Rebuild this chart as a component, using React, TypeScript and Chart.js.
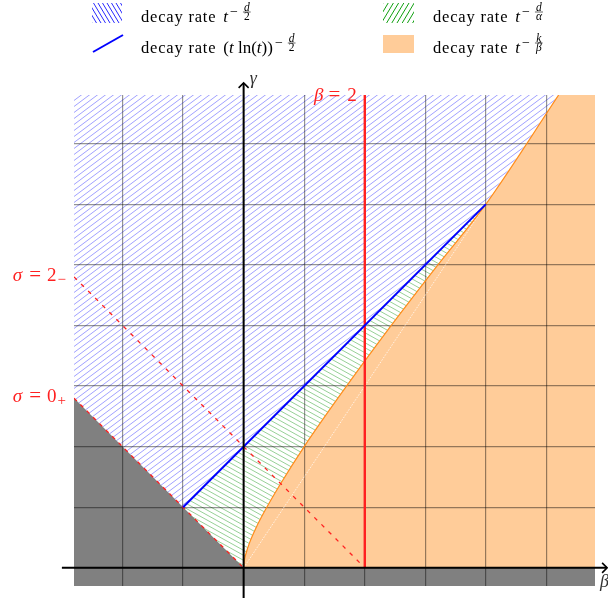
import React, { useEffect, useRef } from 'react';
import { Chart, registerables } from 'chart.js';

Chart.register(...registerables);

// ---------- axis ranges (data units) ----------
const betaRange = [-2.8, 5.8];
const gammaRange = [-0.3, 7.8];
const betaAxis = [-3, 6];
const gammaAxis = [-0.5, 8];
const gridStep = 1;

// ---------- regions / curves ----------
// grey region: below gamma = max(-beta, 0)
const greyBeta = [-2.8, 0, 5.8];
const greyGamma = [2.8, 0, 0];

// orange boundary curve (t^{-k/beta} region lies to the right of it)
const orangeBeta = [0, 0.01, 0.04, 0.1, 0.2, 0.35, 0.6, 1, 1.6, 2.4, 3.2, 4, 5.2];
const orangeGamma = [0, 0.11, 0.24, 0.42, 0.65, 0.94, 1.37, 2, 2.86, 3.95, 4.99, 6, 7.8];
// straight upper part of the orange region up to the right edge
const orangeTopBeta = [4, 5.2, 5.8];
const orangeTopGamma = [6, 7.8, 7.8];

// lower boundary of the blue hatched region
const blueHatchBeta = [-2.8, -1, 4, 5.2, 5.8];
const blueHatchGamma = [2.8, 1, 6, 7.8, 7.8];

// blue line: decay rate (t ln t)^{-d/2}
const blueLineBeta = [-1, 4];
const blueLineGamma = [1, 6];

// red vertical line beta = 2
const betaTwoBeta = [2, 2];
const betaTwoGamma = [0, 7.8];

// red dashed sigma lines
const sigma2Beta = [-2.8, 2];
const sigma2Gamma = [4.8, 0];
const sigma0Beta = [-2.8, 0];
const sigma0Gamma = [2.8, 0];

// thin white line inside the orange region
const whiteBeta = [0, 4];
const whiteGamma = [0, 6];

// ---------- styles ----------
const RED = '#ff2020';
const ORANGE = 'rgb(255,204,153)';
const ORANGE_LINE = '#ff8c1a';
const GREY = '#808080';
const GRID = 'rgba(0,0,0,0.42)';
const SERIF = '"Liberation Serif", "DejaVu Serif", serif';
const font = (size: number, italic = false) => `${italic ? 'italic ' : ''}${size}px ${SERIF}`;

function pts(xs: number[], ys: number[]) {
  return xs.map((x, i) => ({ x, y: ys[i] }));
}

function makeHatch(dir: '/' | '\\', color: string, w: number, h: number, lw: number) {
  const c = document.createElement('canvas');
  c.width = w;
  c.height = h;
  const g = c.getContext('2d')!;
  g.strokeStyle = color;
  g.lineWidth = lw;
  g.beginPath();
  for (let k = -1; k <= 1; k++) {
    if (dir === '/') {
      g.moveTo(0, h + k * h);
      g.lineTo(w, k * h);
    } else {
      g.moveTo(0, k * h);
      g.lineTo(w, h + k * h);
    }
  }
  g.stroke();
  return g.createPattern(c, 'repeat')!;
}

function hatchBox(ctx: CanvasRenderingContext2D, x: number, y: number, w: number, h: number,
  dir: '/' | '\\', color: string, step: number, run: number) {
  ctx.save();
  ctx.beginPath();
  ctx.rect(x, y, w, h);
  ctx.clip();
  ctx.strokeStyle = color;
  ctx.lineWidth = 1;
  ctx.beginPath();
  for (let sx = x - run - step; sx < x + w + run + step; sx += step) {
    if (dir === '\\') {
      ctx.moveTo(sx, y);
      ctx.lineTo(sx + run, y + h);
    } else {
      ctx.moveTo(sx, y + h);
      ctx.lineTo(sx + run, y);
    }
  }
  ctx.stroke();
  ctx.restore();
}

type Part = { t?: string; f?: string; dy?: number; gap?: number };

function drawParts(ctx: CanvasRenderingContext2D, parts: Part[], x: number, y: number, align: 'left' | 'right') {
  ctx.textAlign = 'left';
  let total = 0;
  for (const p of parts) {
    if (p.gap !== undefined) { total += p.gap; continue; }
    ctx.font = p.f!;
    total += ctx.measureText(p.t!).width;
  }
  let cx = align === 'right' ? x - total : x;
  for (const p of parts) {
    if (p.gap !== undefined) { cx += p.gap; continue; }
    ctx.font = p.f!;
    ctx.fillText(p.t!, cx, y + (p.dy || 0));
    cx += ctx.measureText(p.t!).width;
  }
}

function decayLabel(ctx: CanvasRenderingContext2D, x: number, y: number,
  base: [string, boolean][], num: string, den: string) {
  ctx.fillStyle = '#000';
  ctx.textAlign = 'left';
  ctx.font = font(16.5);
  (ctx as any).letterSpacing = '0.8px';
  ctx.fillText('decay rate', x, y);
  let cx = x + ctx.measureText('decay rate').width + 7;
  (ctx as any).letterSpacing = '0px';
  for (const [t, it] of base) {
    ctx.font = font(17, it);
    ctx.fillText(t, cx, y);
    cx += ctx.measureText(t).width;
  }
  cx += 2;
  ctx.font = font(14);
  ctx.fillText('\u2212', cx, y - 6.5);
  cx += ctx.measureText('\u2212').width + 5;
  ctx.font = font(11.5, true);
  const wn = ctx.measureText(num).width;
  const denItalic = den !== '2';
  ctx.font = font(11.5, denItalic);
  const wd = ctx.measureText(den).width;
  const w = Math.max(wn, wd) + 2;
  ctx.font = font(11.5, true);
  ctx.fillText(num, cx + (w - wn) / 2, y - 11);
  ctx.font = font(11.5, denItalic);
  ctx.fillText(den, cx + (w - wd) / 2, y - 2);
  ctx.fillRect(cx, y - 10.3, w, 0.6);
}

export default function App() {
  const ref = useRef<HTMLCanvasElement>(null);

  useEffect(() => {
    const canvas = ref.current!;
    const blueHatch = makeHatch('/', 'rgba(110,110,255,0.72)', 8, 6, 0.9);
    const greenHatch = makeHatch('\\', 'rgba(90,180,90,0.7)', 9, 5, 0.9);

    const overlay = {
      id: 'overlay',
      afterDraw(chart: any) {
        const ctx: CanvasRenderingContext2D = chart.ctx;
        const area = chart.chartArea;
        const sx = chart.scales.x;
        const sy = chart.scales.y;
        const px = (v: number) => sx.getPixelForValue(v);
        const py = (v: number) => sy.getPixelForValue(v);
        ctx.save();

        // axes with arrows
        const ox = px(0);
        const oy = py(0);
        const xEnd = px(betaAxis[1]);
        const yEnd = py(gammaAxis[1]);
        ctx.strokeStyle = '#000';
        ctx.lineWidth = 2;
        ctx.beginPath();
        ctx.moveTo(px(betaAxis[0]), oy);
        ctx.lineTo(xEnd, oy);
        ctx.stroke();
        ctx.beginPath();
        ctx.moveTo(ox, py(gammaAxis[0]));
        ctx.lineTo(ox, yEnd);
        ctx.stroke();
        ctx.lineWidth = 1.6;
        ctx.beginPath();
        ctx.moveTo(xEnd - 5, oy - 5);
        ctx.lineTo(xEnd, oy);
        ctx.lineTo(xEnd - 5, oy + 5);
        ctx.stroke();
        ctx.beginPath();
        ctx.moveTo(ox - 5, yEnd + 5);
        ctx.lineTo(ox, yEnd);
        ctx.lineTo(ox + 5, yEnd + 5);
        ctx.stroke();

        // axis labels
        ctx.fillStyle = '#333';
        ctx.textAlign = 'left';
        ctx.textBaseline = 'alphabetic';
        ctx.font = font(18, true);
        ctx.fillText('\u03b3', ox + 6, yEnd + 1);
        ctx.fillText('\u03b2', xEnd - 7, oy + 19);

        // red labels
        ctx.fillStyle = RED;
        drawParts(ctx, [
          { t: '\u03b2', f: font(19, true) }, { gap: 5 },
          { t: '=', f: font(21) }, { gap: 7 },
          { t: '2', f: font(19) },
        ], px(2) - 8, area.top + 5.5, 'right');
        drawParts(ctx, [
          { t: '\u03c3', f: font(19, true) }, { gap: 7 },
          { t: '=', f: font(21) }, { gap: 6 },
          { t: '2', f: font(19) }, { gap: 1 },
          { t: '\u2212', f: font(15), dy: 3 },
        ], area.left - 8, py(sigma2Gamma[0]) + 4, 'right');
        drawParts(ctx, [
          { t: '\u03c3', f: font(19, true) }, { gap: 7 },
          { t: '=', f: font(21) }, { gap: 6 },
          { t: '0', f: font(19) }, { gap: 1 },
          { t: '+', f: font(15), dy: 3 },
        ], area.left - 8, py(sigma0Gamma[0]) + 4, 'right');

        // legend
        hatchBox(ctx, 92, 3, 30, 20, '\\', '#2a2aff', 4.5, 12);
        ctx.strokeStyle = '#0000ff';
        ctx.lineWidth = 2;
        ctx.beginPath();
        ctx.moveTo(93, 52);
        ctx.lineTo(123, 35);
        ctx.stroke();
        hatchBox(ctx, 383, 3, 31, 20, '/', '#10a010', 5.2, 12);
        ctx.fillStyle = ORANGE;
        ctx.fillRect(383, 35, 31, 18);

        decayLabel(ctx, 141, 22, [['t', true]], 'd', '2');
        decayLabel(ctx, 141, 53, [['(', false], ['t', true], [' ln(', false], ['t', true], ['))', false]], 'd', '2');
        decayLabel(ctx, 433, 22, [['t', true]], 'd', '\u03b1');
        decayLabel(ctx, 433, 53, [['t', true]], 'k', '\u03b2');

        ctx.restore();
      },
    };

    const line = (data: any, color: string, width: number, extra: any = {}) => ({
      data, borderColor: color, borderWidth: width, fill: false, pointRadius: 0, ...extra,
    });
    const area = (data: any, color: any, fill: any, extra: any = {}) => ({
      data, backgroundColor: color, borderWidth: 0, borderColor: 'transparent', fill, pointRadius: 0, ...extra,
    });

    const chart = new Chart(canvas, {
      type: 'line',
      data: {
        datasets: [
          // lines (index 0 drawn on top)
          line(pts(blueLineBeta, blueLineGamma), '#0000ff', 2),
          line(pts(betaTwoBeta, betaTwoGamma), RED, 2.4),
          line(pts(sigma2Beta, sigma2Gamma), RED, 1.3, { borderDash: [4, 6] }),
          line(pts(sigma0Beta, sigma0Gamma), RED, 1.3, { borderDash: [4, 5] }),
          line(pts(orangeBeta, orangeGamma), ORANGE_LINE, 1.2, { cubicInterpolationMode: 'monotone' }),
          line(pts(whiteBeta, whiteGamma), 'rgba(255,255,255,0.95)', 0.8, { borderDash: [1.5, 1.5] }),
          // filled regions (drawn before the grid, index order = top first)
          area(pts(orangeBeta, orangeGamma), ORANGE, { value: 0 }, { cubicInterpolationMode: 'monotone' }),
          area(pts(orangeTopBeta, orangeTopGamma), ORANGE, { value: 0 }),
          area(pts(greyBeta, greyGamma), GREY, 'start'),
          area(pts(blueLineBeta, blueLineGamma), greenHatch, 'start'),
          area(pts(blueHatchBeta, blueHatchGamma), blueHatch, 'end'),
        ],
      },
      options: {
        responsive: false,
        animation: false,
        devicePixelRatio: 1,
        events: [],
        layout: { padding: { left: 74, right: 13, top: 95, bottom: 14 } },
        elements: { point: { radius: 0, hoverRadius: 0 }, line: { tension: 0 } },
        plugins: {
          legend: { display: false },
          tooltip: { enabled: false },
          filler: { drawTime: 'beforeDraw', propagate: false },
        } as any,
        scales: {
          x: {
            type: 'linear',
            min: betaRange[0],
            max: betaRange[1],
            ticks: { display: false, stepSize: gridStep, includeBounds: false },
            grid: { color: GRID, lineWidth: 1.2, drawTicks: false },
            border: { display: false },
          },
          y: {
            type: 'linear',
            min: gammaRange[0],
            max: gammaRange[1],
            ticks: { display: false, stepSize: gridStep, includeBounds: false },
            grid: { color: GRID, lineWidth: 1.2, drawTicks: false },
            border: { display: false },
          },
        },
      },
      plugins: [overlay],
    } as any);

    return () => chart.destroy();
  }, []);

  return (
    <div style={{ position: 'fixed', left: 0, top: 0, width: 608, height: 600, background: '#fff' }}>
      <canvas ref={ref} width={608} height={600} style={{ display: 'block', width: 608, height: 600 }} />
    </div>
  );
}
